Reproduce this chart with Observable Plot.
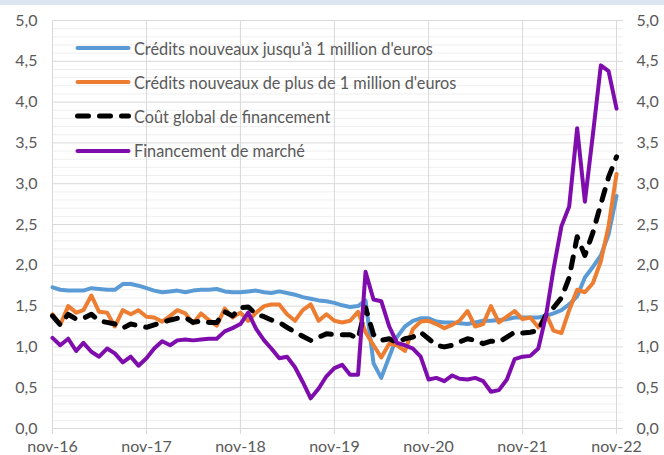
<!DOCTYPE html>
<html><head><meta charset="utf-8">
<script src="https://cdn.jsdelivr.net/npm/d3@7"></script>
<script src="https://cdn.jsdelivr.net/npm/@observablehq/plot@0.6"></script>
<style>
body{margin:0;background:#fff;}
#wrap{position:relative;width:664px;height:455px;overflow:hidden;border-top:5px solid #dce6f2;box-sizing:border-box;font-family:Lato,sans-serif;color:#595959;}
#legend{position:absolute;left:75px;top:26px;font-size:16.3px;}
#legend .row{display:flex;align-items:center;height:34.2px;white-space:nowrap;}
#legend svg{margin-right:3px;}
</style></head><body><div id="wrap"><div id="legend"></div></div>
<script>
const tickLabels = ["nov-16","nov-17","nov-18","nov-19","nov-20","nov-21","nov-22"];
const seriesNames = ["Crédits nouveaux jusqu'à 1 million d'euros","Crédits nouveaux de plus de 1 million d'euros","Coût global de financement","Financement de marché"];
const creditsSmall = [1.73,1.70,1.69,1.69,1.69,1.72,1.71,1.70,1.70,1.77,1.77,1.75,1.72,1.69,1.67,1.68,1.69,1.67,1.69,1.70,1.70,1.71,1.68,1.67,1.67,
 1.68,1.69,1.67,1.66,1.68,1.66,1.64,1.61,1.59,1.57,1.56,1.54,1.51,1.49,1.50,1.57,
 0.80,0.62,0.88,1.12,1.25,1.32,1.35,1.35,
 1.31,1.30,1.30,1.29,1.28,1.30,1.32,1.32,1.33,1.34,1.36,1.36,1.36,1.36,1.38,1.41,1.45,
 1.52,1.62,1.85,1.98,2.12,2.38,2.85];
const creditsLarge = [1.40,1.27,1.50,1.42,1.45,1.63,1.43,1.42,1.25,1.45,1.40,1.45,1.37,1.36,1.31,1.38,1.45,1.41,1.29,
 1.41,1.33,1.26,1.47,1.36,1.42,1.32,1.42,1.50,1.52,1.52,1.40,1.32,1.45,1.52,1.32,1.40,1.32,1.30,1.32,1.43,
 1.18,1.02,0.87,1.04,1.02,0.95,1.22,1.31,1.32,
 1.28,1.23,1.27,1.32,1.44,1.25,1.28,1.50,1.30,1.37,1.44,1.34,1.36,1.24,1.40,1.20,1.17,
 1.45,1.70,1.67,1.78,2.05,2.48,3.12];
const globalCost = [1.38,1.27,1.40,1.34,1.35,1.40,1.32,1.30,1.28,1.23,1.28,1.26,1.24,1.27,1.30,1.33,1.35,1.36,
 1.30,1.32,1.30,1.30,1.43,1.38,1.48,1.49,1.40,1.37,1.33,1.30,1.24,1.18,1.13,1.08,1.12,1.16,
 1.15,1.15,1.15,1.10,1.48,1.15,1.08,1.10,1.05,1.10,1.12,1.18,1.10,1.02,1.00,1.02,1.06,1.10,1.08,1.04,1.07,1.06,1.12,1.18,1.17,1.18,1.20,
 1.40,1.48,1.60,1.85,2.35,2.12,2.40,2.75,3.08,3.33];
const marketFinancing = [1.11,1.02,1.10,0.95,1.05,0.94,0.88,0.98,0.92,0.81,0.88,0.77,0.86,0.98,1.07,1.02,1.08,1.09,1.08,1.09,1.10,1.10,1.19,1.23,1.28,
 1.42,1.22,1.08,0.98,0.86,0.88,0.75,0.57,0.37,0.49,0.64,0.74,0.78,0.66,0.66,1.92,1.58,1.56,1.25,1.05,1.02,0.98,0.88,
 0.60,0.62,0.58,0.65,0.61,0.60,0.62,0.58,0.45,0.47,0.60,0.85,0.88,0.89,0.98,1.40,1.95,2.48,2.72,3.68,2.78,3.60,4.45,4.38,3.92];
const colors = ["#5b9bd5","#ed7d31","#000000","#7f0cad"];
const widths = [4,4,5,4];
const dashes = [null,null,"11,11",null];

const months = d3.utcMonth.range(new Date(Date.UTC(2016,10,1)), new Date(Date.UTC(2022,11,1)));
const tickDates = months.filter((d,i) => i % 12 === 0);
const labelByTime = new Map(tickDates.map((d,i) => [+d, tickLabels[i]]));
const allSeries = [creditsSmall, creditsLarge, globalCost, marketFinancing];
const rows = [];
allSeries.forEach((arr, s) => arr.forEach((v, i) => rows.push({s, date: months[i], v})));

const yMajor = d3.range(0, 11).map(k => k * 0.5);
const yMinor = d3.range(0, 51).filter(k => k % 5 !== 0).map(k => k / 10);
const fmt = d => d.toFixed(1).replace(".", ",");
const xEnd = new Date(Date.UTC(2022,10,28));

const lineMarks = allSeries.map((arr, s) => Plot.line(rows.filter(r => r.s === s), {
  x: "date", y: "v", stroke: colors[s], strokeWidth: widths[s],
  strokeDasharray: dashes[s] || undefined, strokeLinecap: "round", strokeLinejoin: "round"
}));

const chart = Plot.plot({
  width: 664, height: 450,
  marginLeft: 52, marginRight: 41, marginTop: 15, marginBottom: 27,
  style: {fontFamily: "Lato, sans-serif", fontSize: "16px", color: "#595959", background: "transparent", overflow: "visible"},
  x: {type: "utc", domain: [months[0], xEnd]},
  y: {domain: [0, 5]},
  marks: [
    Plot.ruleY(yMinor, {stroke: "#efefef", strokeWidth: 1}),
    Plot.ruleY(yMajor, {stroke: "#d9d9d9", strokeWidth: 1}),
    Plot.ruleX(tickDates, {stroke: "#d9d9d9", strokeWidth: 1}),
    Plot.axisY({anchor: "left", ticks: yMajor, tickSize: 0, tickPadding: 15, tickFormat: fmt, label: null}),
    Plot.axisY({anchor: "right", ticks: yMajor, tickSize: 0, tickPadding: 13, tickFormat: fmt, label: null}),
    Plot.axisX({ticks: tickDates, tickSize: 6, tickPadding: 6, tickFormat: d => labelByTime.get(+d), label: null, stroke: "#d9d9d9"}),
    ...lineMarks
  ]
});
document.getElementById("wrap").appendChild(chart);

const legend = document.getElementById("legend");
seriesNames.forEach((name, s) => {
  const row = document.createElement("div");
  row.className = "row";
  const dash = dashes[s] ? ` stroke-dasharray="${dashes[s]}"` : "";
  row.innerHTML = `<svg width="56" height="10"><line x1="2.5" y1="5" x2="53.5" y2="5" stroke="${colors[s]}" stroke-width="${widths[s]}" stroke-linecap="round"${dash}/></svg><span>${name}</span>`;
  legend.appendChild(row);
});
</script>
</body></html>
